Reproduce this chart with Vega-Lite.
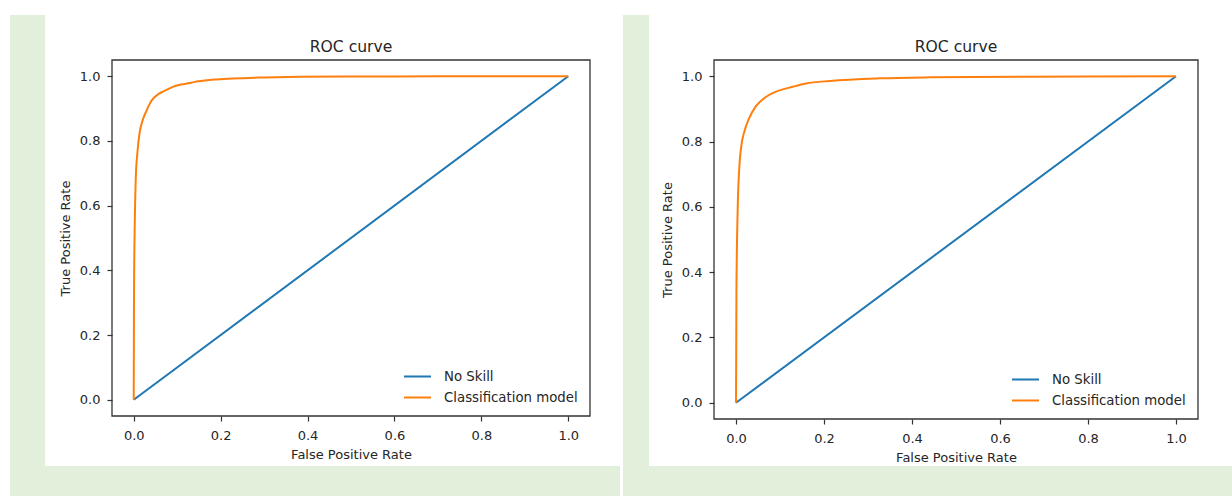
{
  "$schema": "https://vega.github.io/schema/vega-lite/v6.json",
  "background": "white",
  "padding": {"left": 10, "top": 14, "right": 0, "bottom": 0},
  "config": {
    "font": "DejaVu Sans",
    "view": {"stroke": null},
    "axis": {
      "domain": false, "grid": false, "ticks": true, "tickSize": 5, "tickColor": "#333333", "tickWidth": 1.2,
      "labelFont": "DejaVu Sans", "labelFontSize": 13, "labelColor": "#262626", "labelFlush": false, "labelOverlap": false,
      "titleFont": "DejaVu Sans", "titleFontSize": 13, "titleFontWeight": "normal", "titleColor": "#262626", "zindex": 1
    },
    "title": {"font": "DejaVu Sans", "fontSize": 15.6, "fontWeight": "normal", "color": "#262626", "offset": -41, "anchor": "middle", "frame": "group"},
    "legend": {
      "orient": "bottom-right", "symbolType": "stroke", "symbolStrokeWidth": 2, "symbolSize": 729,
      "labelFont": "DejaVu Sans", "labelFontSize": 13.3, "labelColor": "#262626", "padding": 0, "offset": 12,
      "rowPadding": -3, "labelOffset": 12, "zindex": 2
    }
  },
  "datasets": {
    "left": [
      {"fpr": 0, "tpr": 0, "series": "No Skill"},
      {"fpr": 1, "tpr": 1, "series": "No Skill"},
      {"fpr": 0, "tpr": 0, "series": "Classification model"},
      {"fpr": 0.0003, "tpr": 0.15, "series": "Classification model"},
      {"fpr": 0.0007, "tpr": 0.33, "series": "Classification model"},
      {"fpr": 0.0023, "tpr": 0.537, "series": "Classification model"},
      {"fpr": 0.0046, "tpr": 0.68, "series": "Classification model"},
      {"fpr": 0.0085, "tpr": 0.765, "series": "Classification model"},
      {"fpr": 0.0138, "tpr": 0.827, "series": "Classification model"},
      {"fpr": 0.0214, "tpr": 0.867, "series": "Classification model"},
      {"fpr": 0.0293, "tpr": 0.893, "series": "Classification model"},
      {"fpr": 0.0408, "tpr": 0.924, "series": "Classification model"},
      {"fpr": 0.056, "tpr": 0.944, "series": "Classification model"},
      {"fpr": 0.068, "tpr": 0.953, "series": "Classification model"},
      {"fpr": 0.079, "tpr": 0.96, "series": "Classification model"},
      {"fpr": 0.09, "tpr": 0.967, "series": "Classification model"},
      {"fpr": 0.102, "tpr": 0.972, "series": "Classification model"},
      {"fpr": 0.117, "tpr": 0.976, "series": "Classification model"},
      {"fpr": 0.133, "tpr": 0.98, "series": "Classification model"},
      {"fpr": 0.148, "tpr": 0.984, "series": "Classification model"},
      {"fpr": 0.164, "tpr": 0.987, "series": "Classification model"},
      {"fpr": 0.19, "tpr": 0.99, "series": "Classification model"},
      {"fpr": 0.228, "tpr": 0.993, "series": "Classification model"},
      {"fpr": 0.3, "tpr": 0.996, "series": "Classification model"},
      {"fpr": 0.382, "tpr": 0.998, "series": "Classification model"},
      {"fpr": 0.5, "tpr": 0.999, "series": "Classification model"},
      {"fpr": 0.7, "tpr": 0.9995, "series": "Classification model"},
      {"fpr": 1, "tpr": 1, "series": "Classification model"}
    ],
    "right": [
      {"fpr": 0, "tpr": 0, "series": "No Skill"},
      {"fpr": 1, "tpr": 1, "series": "No Skill"},
      {"fpr": 0, "tpr": 0, "series": "Classification model"},
      {"fpr": 0.0005, "tpr": 0.15, "series": "Classification model"},
      {"fpr": 0.001, "tpr": 0.343, "series": "Classification model"},
      {"fpr": 0.0039, "tpr": 0.596, "series": "Classification model"},
      {"fpr": 0.0075, "tpr": 0.72, "series": "Classification model"},
      {"fpr": 0.0114, "tpr": 0.78, "series": "Classification model"},
      {"fpr": 0.0189, "tpr": 0.83, "series": "Classification model"},
      {"fpr": 0.03, "tpr": 0.872, "series": "Classification model"},
      {"fpr": 0.045, "tpr": 0.908, "series": "Classification model"},
      {"fpr": 0.064, "tpr": 0.933, "series": "Classification model"},
      {"fpr": 0.091, "tpr": 0.953, "series": "Classification model"},
      {"fpr": 0.129, "tpr": 0.968, "series": "Classification model"},
      {"fpr": 0.159, "tpr": 0.978, "series": "Classification model"},
      {"fpr": 0.214, "tpr": 0.986, "series": "Classification model"},
      {"fpr": 0.327, "tpr": 0.994, "series": "Classification model"},
      {"fpr": 0.441, "tpr": 0.997, "series": "Classification model"},
      {"fpr": 0.668, "tpr": 0.999, "series": "Classification model"},
      {"fpr": 1, "tpr": 1, "series": "Classification model"}
    ]
  },
  "bounds": "flush",
  "spacing": 124,
  "resolve": {
    "scale": {"x": "independent", "y": "independent", "color": "independent"},
    "legend": {"color": "independent"}
  },
  "hconcat": [
    {
      "width": 478,
      "height": 356,
      "title": "ROC curve",
      "layer": [
        {
          "data": {"values": [{}]},
          "mark": {"type": "rect", "fill": "#e2efda", "clip": false},
          "encoding": {
            "x": {"datum": -0.2847, "type": "quantitative"},
            "x2": {"datum": 1.119},
            "y": {"datum": 1.189, "type": "quantitative"},
            "y2": {"datum": -0.3003}
          }
        },
        {
          "data": {"values": [{}]},
          "mark": {"type": "rect", "fill": "#ffffff", "clip": false},
          "encoding": {
            "x": {"datum": -0.2042, "type": "quantitative"},
            "x2": {"datum": 1.119},
            "y": {"datum": 1.189, "type": "quantitative"},
            "y2": {"datum": -0.2045}
          }
        },
        {
          "data": {"name": "left"},
          "mark": {"type": "line", "strokeWidth": 2, "clip": false, "interpolate": "monotone"},
          "encoding": {
            "x": {"field": "fpr", "type": "quantitative", "scale": {"domain": [-0.05, 1.05], "nice": false, "zero": false},
                  "axis": {"title": "False Positive Rate", "values": [0, 0.2, 0.4, 0.6, 0.8, 1], "format": ".1f", "labelPadding": 8, "titlePadding": 6, "zindex": 1}},
            "y": {"field": "tpr", "type": "quantitative", "scale": {"domain": [-0.05, 1.05], "nice": false, "zero": false},
                  "axis": {"title": "True Positive Rate", "values": [0, 0.2, 0.4, 0.6, 0.8, 1], "format": ".1f", "labelPadding": 7, "titlePadding": 7, "zindex": 1}},
            "color": {"field": "series", "type": "nominal", "scale": {"domain": ["No Skill", "Classification model"], "range": ["#1f77b4", "#ff7f0e"]}, "legend": {"title": null}}
          }
        },
        {
          "data": {"values": [{}]},
          "mark": {"type": "rect", "filled": false, "stroke": "#333333", "strokeWidth": 1.3, "clip": false},
          "encoding": {
            "x": {"datum": -0.05, "type": "quantitative"},
            "x2": {"datum": 1.05},
            "y": {"datum": 1.05, "type": "quantitative"},
            "y2": {"datum": -0.05}
          }
        }
      ]
    },
    {
      "width": 484,
      "height": 359,
      "title": "ROC curve",
      "layer": [
        {
          "data": {"values": [{}]},
          "mark": {"type": "rect", "fill": "#e2efda", "clip": false},
          "encoding": {
            "x": {"datum": -0.2568, "type": "quantitative"},
            "x2": {"datum": 1.1273},
            "y": {"datum": 1.1879, "type": "quantitative"},
            "y2": {"datum": -0.289}
          }
        },
        {
          "data": {"values": [{}]},
          "mark": {"type": "rect", "fill": "#ffffff", "clip": false},
          "encoding": {
            "x": {"datum": -0.1977, "type": "quantitative"},
            "x2": {"datum": 1.1273},
            "y": {"datum": 1.1879, "type": "quantitative"},
            "y2": {"datum": -0.194}
          }
        },
        {
          "data": {"name": "right"},
          "mark": {"type": "line", "strokeWidth": 2, "clip": false, "interpolate": "monotone"},
          "encoding": {
            "x": {"field": "fpr", "type": "quantitative", "scale": {"domain": [-0.05, 1.05], "nice": false, "zero": false},
                  "axis": {"title": "False Positive Rate", "values": [0, 0.2, 0.4, 0.6, 0.8, 1], "format": ".1f", "labelPadding": 8, "titlePadding": 6, "zindex": 1}},
            "y": {"field": "tpr", "type": "quantitative", "scale": {"domain": [-0.05, 1.05], "nice": false, "zero": false},
                  "axis": {"title": "True Positive Rate", "values": [0, 0.2, 0.4, 0.6, 0.8, 1], "format": ".1f", "labelPadding": 7, "titlePadding": 7, "zindex": 1}},
            "color": {"field": "series", "type": "nominal", "scale": {"domain": ["No Skill", "Classification model"], "range": ["#1f77b4", "#ff7f0e"]}, "legend": {"title": null}}
          }
        },
        {
          "data": {"values": [{}]},
          "mark": {"type": "rect", "filled": false, "stroke": "#333333", "strokeWidth": 1.3, "clip": false},
          "encoding": {
            "x": {"datum": -0.05, "type": "quantitative"},
            "x2": {"datum": 1.05},
            "y": {"datum": 1.05, "type": "quantitative"},
            "y2": {"datum": -0.05}
          }
        }
      ]
    }
  ]
}
